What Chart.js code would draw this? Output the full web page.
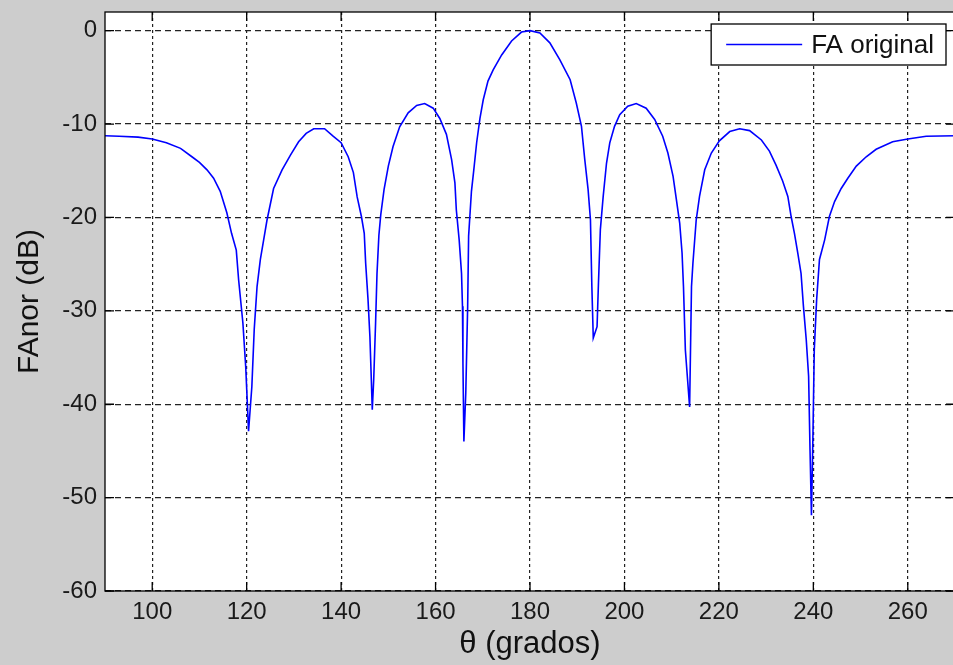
<!DOCTYPE html>
<html>
<head>
<meta charset="utf-8">
<title>FA original</title>
<script src="https://cdn.jsdelivr.net/npm/chart.js@4.4.0/dist/chart.umd.min.js"></script>
<style>
  html, body { margin: 0; padding: 0; background: #cdcdcd; }
  #wrap { width: 953px; height: 665px; overflow: hidden; }
  canvas { display: block; }
</style>
</head>
<body>
<div id="wrap"><canvas id="faChart" width="958" height="665"></canvas></div>
<script>
// normalised array factor, angle in degrees vs level in dB
const thetaDeg = [
  90, 93, 97, 100, 103, 106, 108.4, 110, 111.6, 113, 114.4, 115.8, 116.8, 117.8, 118.3, 119.2, 119.8, 120.4,
  121.1, 121.6, 122.2, 122.9, 123.6, 124.3, 125.7, 127.5, 129.3, 131, 132.6, 134.2, 136.5, 138.3, 140,
  141.5, 142.6, 143.4, 144.3, 144.9, 145.2, 145.7, 146.1, 146.4, 146.6, 146.9, 147.3, 147.6, 148, 148.4,
  149.1, 150, 151, 152.4, 154.2, 156, 157.7, 159.5, 160.9, 162.3, 163.4, 164.1, 164.4, 165, 165.5, 165.7,
  165.8, 166, 166.4, 166.8, 167, 167.6, 168.1, 168.7, 169.4, 170.1, 171.1, 172.2, 174, 176.1, 178.2, 180,
  182.1, 184.2, 186.3, 188.5, 189.8, 190.9, 191.6, 192.3, 192.8, 193.1, 193.4, 194.2, 194.5, 194.9, 195.5,
  196.2, 196.9, 197.9, 199, 200.7, 202.5, 204.6, 206.4, 208.1, 209.2, 210.3, 211, 211.7, 212.2, 212.5,
  212.9, 213.8, 214.2, 214.5, 215.2, 215.9, 217, 218.4, 220.1, 222.3, 224.4, 226.5, 229, 230.7, 232.1,
  233.5, 234.6, 235.3, 236, 236.7, 237.4, 237.9, 238.5, 239, 239.3, 239.6, 239.9, 240.2, 240.7, 241.3,
  242.4, 243.4, 244.5, 245.9, 247.3, 249.1, 251.2, 253.3, 256.8, 260, 263.9, 270
];
const faDb = [
  -11.25, -11.3, -11.4, -11.6, -12.0, -12.6, -13.5, -14.1, -14.9, -15.8, -17.2, -19.5, -21.7, -23.5, -26.7, -31.3, -36.0, -42.9,
  -38.1, -32.0, -27.4, -24.5, -22.4, -20.3, -16.9, -14.9, -13.3, -11.9, -11.0, -10.5, -10.5, -11.3, -12.0,
  -13.5, -15.2, -17.8, -19.9, -21.7, -24.9, -28.8, -32.8, -37.4, -40.6, -37.4, -31.3, -26.0, -21.9, -19.7,
  -17.0, -14.5, -12.4, -10.3, -8.8, -8.0, -7.8, -8.3, -9.4, -11.1, -13.8, -16.3, -19.2, -22.4, -26.0, -29.5,
  -35.6, -44.0, -38.8, -29.5, -22.0, -17.2, -14.9, -12.0, -9.4, -7.4, -5.4, -4.2, -2.6, -1.1, -0.15, 0,
  -0.25, -1.3, -3.1, -5.25, -7.75, -10.25, -13.8, -17.0, -20.25, -27.4, -32.9, -31.7, -27.0, -21.3, -17.75,
  -14.2, -12.0, -10.25, -9.0, -8.1, -7.8, -8.3, -9.5, -11.3, -13.1, -15.6, -18.1, -20.6, -23.8, -27.4,
  -34.2, -40.3, -27.4, -24.9, -20.25, -17.75, -14.9, -13.1, -11.8, -10.8, -10.5, -10.7, -11.7, -12.9, -14.4,
  -16.1, -17.75, -19.9, -21.7, -23.8, -26.0, -29.5, -33.1, -37.0, -44.9, -51.9, -43.8, -34.2, -28.8, -24.5,
  -22.4, -19.9, -18.3, -16.9, -15.8, -14.5, -13.5, -12.7, -11.9, -11.6, -11.3, -11.25
];
const xTicks = [100, 120, 140, 160, 180, 200, 220, 240, 260];
const yTicks = [0, -10, -20, -30, -40, -50, -60];
const seriesLabel = 'FA original';

const fontFamily = '"Liberation Sans", Arial, sans-serif';

// white axes box, inward ticks, outline and boxed legend
const axesBox = {
  id: 'axesBox',
  beforeDraw(chart) {
    const a = chart.chartArea;
    const ctx = chart.ctx;
    ctx.save();
    ctx.fillStyle = '#ffffff';
    ctx.fillRect(a.left, a.top, a.right - a.left, a.bottom - a.top);
    ctx.restore();
  },
  afterDatasetsDraw(chart) {
    const a = chart.chartArea;
    const ctx = chart.ctx;
    const xs = chart.scales.x, ys = chart.scales.y;
    const tickLen = 9;
    ctx.save();
    ctx.strokeStyle = '#000000';
    ctx.lineWidth = 1.3;
    ctx.setLineDash([]);
    ctx.beginPath();
    xTicks.forEach(v => {
      const px = xs.getPixelForValue(v);
      ctx.moveTo(px, a.bottom); ctx.lineTo(px, a.bottom - tickLen);
      ctx.moveTo(px, a.top); ctx.lineTo(px, a.top + tickLen);
    });
    yTicks.forEach(v => {
      const py = ys.getPixelForValue(v);
      ctx.moveTo(a.left, py); ctx.lineTo(a.left + tickLen, py);
      ctx.moveTo(a.right, py); ctx.lineTo(a.right - tickLen, py);
    });
    ctx.stroke();
    ctx.strokeRect(a.left, a.top, a.right - a.left, a.bottom - a.top);

    // legend in the upper right corner
    const ds = chart.data.datasets[0];
    ctx.font = '26px ' + fontFamily;
    const textW = ctx.measureText(ds.label).width;
    const boxW = 15 + 76 + 9 + textW + 12;
    const boxH = 41;
    const bx = a.right - 9 - boxW;
    const by = a.top + 12;
    ctx.fillStyle = '#ffffff';
    ctx.fillRect(bx, by, boxW, boxH);
    ctx.lineWidth = 1.3;
    ctx.strokeRect(bx, by, boxW, boxH);
    ctx.strokeStyle = ds.borderColor;
    ctx.lineWidth = ds.borderWidth;
    ctx.beginPath();
    ctx.moveTo(bx + 15, by + boxH / 2);
    ctx.lineTo(bx + 91, by + boxH / 2);
    ctx.stroke();
    ctx.fillStyle = '#111111';
    ctx.textBaseline = 'middle';
    ctx.fillText(ds.label, bx + 100, by + boxH / 2 + 1);
    ctx.restore();
  }
};

const ctx = document.getElementById('faChart');
new Chart(ctx, {
  type: 'line',
  data: {
    datasets: [{
      label: seriesLabel,
      data: thetaDeg.map((t, i) => ({ x: t, y: faDb[i] })),
      borderColor: '#0000ff',
      borderWidth: 1.6,
      pointRadius: 0,
      tension: 0,
      fill: false
    }]
  },
  options: {
    responsive: false,
    animation: false,
    devicePixelRatio: 1,
    events: [],
    layout: { padding: { top: 12, right: 3, left: 0, bottom: 0 } },
    plugins: {
      legend: { display: false },
      tooltip: { enabled: false }
    },
    scales: {
      x: {
        type: 'linear',
        min: 90,
        max: 270,
        afterBuildTicks: scale => { scale.ticks = xTicks.map(v => ({ value: v })); },
        afterFit: scale => {
          scale.height = 74;
          scale.paddingLeft = 0;
          scale.paddingRight = 0;
        },
        ticks: {
          padding: 7,
          color: '#1a1a1a',
          maxRotation: 0,
          font: { family: fontFamily, size: 24 }
        },
        grid: { color: '#222222', lineWidth: 1.2, drawTicks: false },
        border: { display: false, dash: [3, 3] },
        title: {
          display: true,
          text: 'θ (grados)',
          color: '#111111',
          font: { family: fontFamily, size: 31 },
          padding: { top: 0, bottom: 2 }
        }
      },
      y: {
        type: 'linear',
        min: -60,
        max: 2,
        afterBuildTicks: scale => { scale.ticks = yTicks.map(v => ({ value: v })); },
        afterFit: scale => {
          scale.width = 105;
          scale.paddingTop = 0;
          scale.paddingBottom = 0;
        },
        ticks: {
          padding: 8,
          color: '#1a1a1a',
          font: { family: fontFamily, size: 24 }
        },
        grid: { color: '#222222', lineWidth: 1.2, drawTicks: false },
        border: { display: false, dash: [6, 4] },
        title: {
          display: true,
          text: 'FAnor (dB)',
          color: '#111111',
          font: { family: fontFamily, size: 30 },
          padding: { top: 12, bottom: 0 }
        }
      }
    }
  },
  plugins: [axesBox]
});
</script>
</body>
</html>
